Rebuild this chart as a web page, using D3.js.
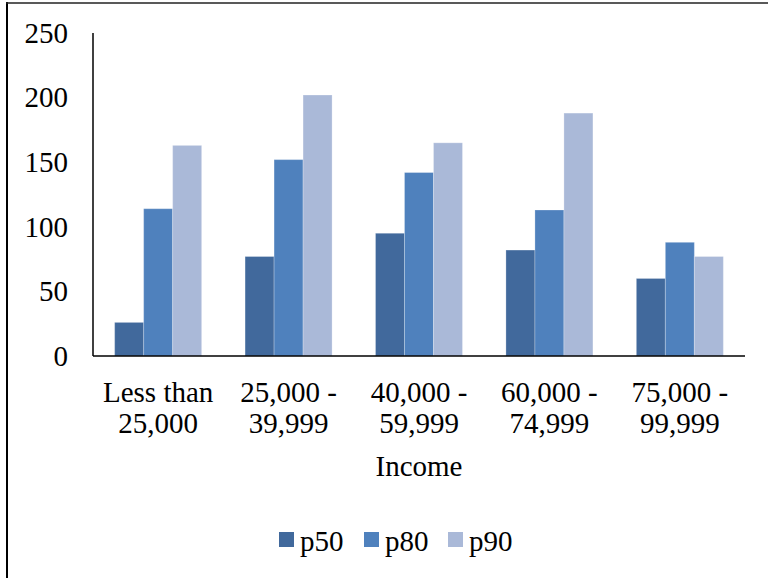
<!DOCTYPE html>
<html>
<head>
<meta charset="utf-8">
<script src="https://cdn.jsdelivr.net/npm/d3@7"></script>
<style>
  body { margin: 0; background: #fff; }
  text { font-family: "Liberation Serif", "Times New Roman", serif; fill: #000; }
</style>
</head>
<body>
<div id="chart"></div>
<script>
// income groups and percentile values
var categories = [["Less than", "25,000"], ["25,000 -", "39,999"], ["40,000 -", "59,999"], ["60,000 -", "74,999"], ["75,000 -", "99,999"]];
var seriesNames = ["p50", "p80", "p90"];
var p50 = [26, 77, 95, 82, 60];
var p80 = [114, 152, 142, 113, 88];
var p90 = [163, 202, 165, 188, 77];
var yTicks = [0, 50, 100, 150, 200, 250];
var colors = ["#41699c", "#4f81bd", "#aab9d8"];

var width = 768, height = 578;
var margin = {top: 33, right: 23, bottom: 222, left: 93};
var plotW = width - margin.left - margin.right,
    plotH = height - margin.top - margin.bottom;

var svg = d3.select("#chart").append("svg")
    .attr("width", width)
    .attr("height", height);

// frame (only left and top edges show in the picture)
svg.append("line").attr("x1", 7).attr("x2", 7).attr("y1", 2).attr("y2", height)
    .attr("stroke", "#000").attr("stroke-width", 2);
svg.append("line").attr("x1", 6).attr("x2", width).attr("y1", 3).attr("y2", 3)
    .attr("stroke", "#222").attr("stroke-width", 1.5);

var g = svg.append("g").attr("transform", "translate(" + margin.left + "," + margin.top + ")");

var x0 = d3.scaleBand().domain(d3.range(categories.length)).range([0, plotW]).paddingInner(0.333).paddingOuter(0.166);
var x1 = d3.scaleBand().domain(seriesNames).range([0, x0.bandwidth()]);
var y = d3.scaleLinear().domain([0, 250]).range([plotH, 0]);

var data = [p50, p80, p90];

seriesNames.forEach(function (name, si) {
  g.append("g").selectAll("rect")
    .data(data[si])
    .enter().append("rect")
    .attr("x", function (d, i) { return x0(i) + x1(name); })
    .attr("y", function (d) { return y(d); })
    .attr("width", x1.bandwidth())
    .attr("height", function (d) { return plotH - y(d); })
    .attr("fill", colors[si])
    .attr("stroke", "rgba(255,255,255,0.25)")
    .attr("stroke-width", 1);
});

// y axis labels, no tick marks
var yAxis = g.append("g").call(d3.axisLeft(y).tickValues(yTicks).tickSize(0).tickPadding(25));
yAxis.select(".domain").remove();
yAxis.selectAll("text").style("font-size", "29px").style("font-family", "Liberation Serif");

g.append("line").attr("x1", 0).attr("x2", 0).attr("y1", 0).attr("y2", plotH)
    .attr("stroke", "#000").attr("stroke-width", 1.5);
g.append("line").attr("x1", 0).attr("x2", plotW).attr("y1", plotH).attr("y2", plotH)
    .attr("stroke", "#000").attr("stroke-width", 1.5);

// category labels, two lines each
var xl = g.append("g").selectAll("text")
    .data(categories)
    .enter().append("text")
    .attr("text-anchor", "middle")
    .attr("font-size", 29)
    .attr("transform", function (d, i) { return "translate(" + (x0(i) + x0.bandwidth() / 2) + "," + (plotH + 46) + ")"; });
xl.append("tspan").attr("x", 0).attr("dy", 0).text(function (d) { return d[0]; });
xl.append("tspan").attr("x", 0).attr("dy", 31).text(function (d) { return d[1]; });

g.append("text")
    .attr("x", plotW / 2)
    .attr("y", plotH + 120)
    .attr("text-anchor", "middle")
    .attr("font-size", 29)
    .text("Income");

// legend
var legendX = [279, 364, 448];
var legend = svg.append("g").selectAll("g")
    .data(seriesNames)
    .enter().append("g")
    .attr("transform", function (d, i) { return "translate(" + legendX[i] + ",532)"; });
legend.append("rect").attr("width", 15).attr("height", 15)
    .attr("fill", function (d, i) { return colors[i]; });
legend.append("text").attr("x", 21).attr("y", 19)
    .attr("font-size", 29)
    .text(function (d) { return d; });
</script>
</body>
</html>
